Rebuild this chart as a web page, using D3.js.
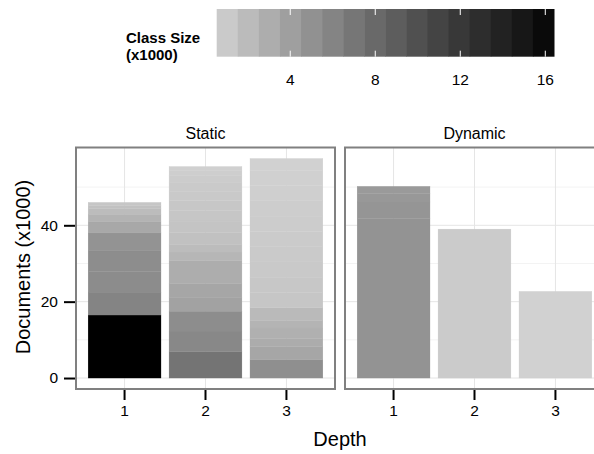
<!DOCTYPE html>
<html>
<head>
<meta charset="utf-8">
<script src="https://cdn.jsdelivr.net/npm/d3@7"></script>
<style>
body { margin: 0; background: #fff; }
svg { display: block; font-family: "Liberation Sans", Arial, sans-serif; }
</style>
</head>
<body>
<div id="chart"></div>
<script>
var depths      = ['1', '2', '3'];
var facets      = ['Static', 'Dynamic'];

// documents (x1000) per stacked segment, bottom to top
var static_docs = [
    [16.5, 6.0, 5.4, 5.4, 4.7, 2.9, 2.0, 1.5, 0.8, 0.8],
    [6.9, 5.4, 5.2, 3.5, 3.8, 6.0, 2.2, 1.9, 3.2, 3.0, 2.8, 2.6, 2.4, 2.2, 2.0, 1.3, 1.0],
    [4.75, 3.45, 2.1, 2.8, 2.0, 3.3, 4.0, 4.0, 4.0, 4.0, 4.0, 4.0, 4.0, 4.0, 4.0, 3.1]
];
// class size (x1000) of each segment, used for the fill
var static_size = [
    [16.4, 6.0, 5.4, 5.3, 4.9, 3.4, 2.6, 2.0, 1.6, 1.3],
    [7.2, 5.7, 5.3, 3.8, 3.5, 3.0, 2.4, 2.0, 1.6, 1.45, 1.3, 1.2, 1.1, 1.0, 0.9, 0.75, 0.6],
    [5.2, 3.5, 3.1, 2.8, 2.5, 2.1, 1.3, 1.2, 1.1, 1.0, 0.95, 0.9, 0.8, 0.7, 0.6, 0.55]
];
var dynamic_docs = [
    [41.8, 4.3, 2.2, 1.9],
    [39.0],
    [22.7]
];
var dynamic_size = [
    [4.85, 4.7, 4.55, 4.4],
    [0.98],
    [0.54]
];

var size_range   = [0.54, 16.41];
var legend_ticks = [4, 8, 12, 16];
var y_ticks      = [0, 20, 40];
var y_minor      = [10, 30, 50];

var chart_width  = 594;
var chart_height = 454;
var panel_top    = 147.5;
var panel_bottom = 389;
var panel_w      = 259;
var panel_x      = [76, 345];
var font         = '"Liberation Sans", Arial, sans-serif';

var svg = d3.select('#chart')
    .append('svg')
    .attr('width', chart_width)
    .attr('height', chart_height);

// fill scale (grey gradient, Lab)
var fill_scale = d3.scaleLinear()
    .domain(size_range)
    .range(['#d1d1d1', '#000000'])
    .interpolate(d3.interpolateLab);

// stack the segments
function stack(docs, size) {
    var out = [];
    docs.forEach(function(seg, i) {
        var y0 = 0;
        seg.forEach(function(d, j) {
            out.push({ depth: depths[i], y0: y0, y1: y0 + d, size: size[i][j] });
            y0 += d;
        });
    });
    return out;
}
var panels = [stack(static_docs, static_size), stack(dynamic_docs, dynamic_size)];

var y_max = d3.max(panels, function(p) { return d3.max(p, function(d) { return d.y1; }); });
var y_scale = d3.scaleLinear()
    .domain([-0.05 * y_max, 1.05 * y_max])
    .range([panel_bottom, panel_top]);

var x_scale = d3.scaleBand()
    .domain(depths)
    .range([0, panel_w])
    .paddingInner(0.1)
    .paddingOuter(0.15);

panels.forEach(function(data, p) {
    var g = svg.append('g').attr('transform', 'translate(' + panel_x[p] + ',0)');

    g.append('rect')
        .attr('x', 0).attr('y', panel_top)
        .attr('width', panel_w).attr('height', panel_bottom - panel_top)
        .attr('fill', '#fff');

    g.selectAll('.minor')
        .data(y_minor).enter().append('line')
        .attr('x1', 0).attr('x2', panel_w)
        .attr('y1', function(d) { return y_scale(d); })
        .attr('y2', function(d) { return y_scale(d); })
        .attr('stroke', '#f3f3f3').attr('stroke-width', 1);

    g.selectAll('.hmajor')
        .data(y_ticks).enter().append('line')
        .attr('x1', 0).attr('x2', panel_w)
        .attr('y1', function(d) { return y_scale(d); })
        .attr('y2', function(d) { return y_scale(d); })
        .attr('stroke', '#e5e5e5').attr('stroke-width', 1);

    g.selectAll('.vmajor')
        .data(depths).enter().append('line')
        .attr('x1', function(d) { return x_scale(d) + x_scale.bandwidth() / 2; })
        .attr('x2', function(d) { return x_scale(d) + x_scale.bandwidth() / 2; })
        .attr('y1', panel_top).attr('y2', panel_bottom)
        .attr('stroke', '#e5e5e5').attr('stroke-width', 1);

    g.selectAll('.seg')
        .data(data).enter().append('rect')
        .attr('x', function(d) { return x_scale(d.depth); })
        .attr('y', function(d) { return y_scale(d.y1); })
        .attr('width', x_scale.bandwidth())
        .attr('height', function(d) { return y_scale(d.y0) - y_scale(d.y1); })
        .attr('fill', function(d) { return fill_scale(d.size); })
        .attr('stroke', function(d) { return fill_scale(d.size); })
        .attr('stroke-width', 0.3);

    g.append('rect')
        .attr('x', 0).attr('y', panel_top)
        .attr('width', panel_w).attr('height', panel_bottom - panel_top)
        .attr('fill', 'none').attr('stroke', '#808080').attr('stroke-width', 2);

    // strip label
    g.append('text')
        .text(facets[p])
        .attr('x', panel_w / 2).attr('y', 139)
        .attr('text-anchor', 'middle')
        .attr('font-size', 16);

    // x axis
    var x_axis = d3.axisBottom(x_scale).tickSize(10).tickPadding(5);
    var xa = g.append('g')
        .attr('transform', 'translate(0,' + (panel_bottom + 1) + ')')
        .call(x_axis);
    xa.select('.domain').remove();
    xa.selectAll('line').attr('stroke', '#000').attr('stroke-width', 2);
    xa.selectAll('text').attr('font-size', 15.5).attr('fill', '#000')
        .attr('font-family', font);
});

// y axis
var y_axis = d3.axisLeft(y_scale).tickValues(y_ticks).tickSize(11).tickPadding(6);
var ya = svg.append('g')
    .attr('transform', 'translate(' + (panel_x[0] - 1) + ',0)')
    .call(y_axis);
ya.select('.domain').remove();
ya.selectAll('line').attr('stroke', '#000').attr('stroke-width', 2);
ya.selectAll('text').attr('font-size', 15.5).attr('fill', '#000')
    .attr('font-family', font);

// axis titles
svg.append('text')
    .text('Depth')
    .attr('x', 340).attr('y', 446)
    .attr('text-anchor', 'middle')
    .attr('font-size', 20);

svg.append('text')
    .text('Documents (x1000)')
    .attr('transform', 'translate(30,267) rotate(-90)')
    .attr('text-anchor', 'middle')
    .attr('font-size', 20);

// legend
var leg_x0 = 216.7, leg_x1 = 554, leg_y0 = 9, leg_y1 = 56.7;
var leg_scale = d3.scaleLinear().domain(size_range).range([leg_x0, leg_x1]);
var n_bins = 16;
var bin_w = (size_range[1] - size_range[0]) / n_bins;
var bins = d3.range(n_bins).map(function(i) { return size_range[0] + i * bin_w; });

svg.selectAll('.bin')
    .data(bins).enter().append('rect')
    .attr('x', function(d) { return leg_scale(d); })
    .attr('y', leg_y0)
    .attr('width', leg_scale(bin_w) - leg_scale(0) + 0.5)
    .attr('height', leg_y1 - leg_y0)
    .attr('fill', function(d) { return fill_scale(d + bin_w / 2); });

svg.selectAll('.ltick-top')
    .data(legend_ticks).enter().append('line')
    .attr('x1', function(d) { return leg_scale(d); })
    .attr('x2', function(d) { return leg_scale(d); })
    .attr('y1', leg_y0).attr('y2', leg_y0 + 6)
    .attr('stroke', '#fff').attr('stroke-width', 1);

svg.selectAll('.ltick-bot')
    .data(legend_ticks).enter().append('line')
    .attr('x1', function(d) { return leg_scale(d); })
    .attr('x2', function(d) { return leg_scale(d); })
    .attr('y1', leg_y1 - 6).attr('y2', leg_y1)
    .attr('stroke', '#fff').attr('stroke-width', 1);

svg.selectAll('.llabel')
    .data(legend_ticks).enter().append('text')
    .text(function(d) { return d; })
    .attr('x', function(d) { return leg_scale(d); })
    .attr('y', 85)
    .attr('text-anchor', 'middle')
    .attr('font-size', 15.5);

svg.append('text')
    .attr('x', 126).attr('y', 43)
    .attr('font-size', 15).attr('font-weight', 'bold')
    .text('Class Size');
svg.append('text')
    .attr('x', 126).attr('y', 60)
    .attr('font-size', 15).attr('font-weight', 'bold')
    .text('(x1000)');
</script>
</body>
</html>
